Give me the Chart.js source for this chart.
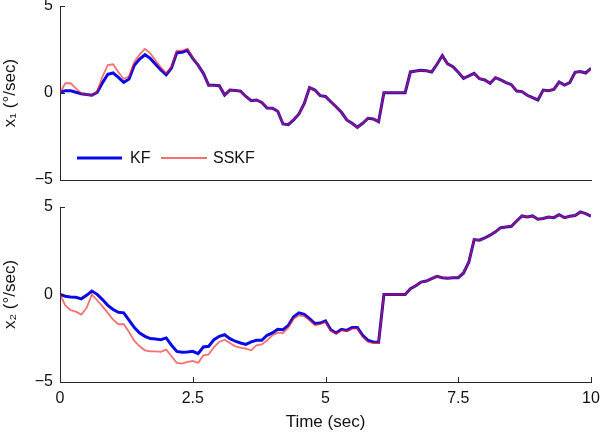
<!DOCTYPE html>
<html>
<head>
<meta charset="utf-8">
<script src="https://cdn.jsdelivr.net/npm/chart.js@4.4.1/dist/chart.umd.min.js"></script>
<style>
  html, body { margin: 0; padding: 0; background: #fff; }
  #wrap { position: relative; width: 600px; height: 433px; overflow: hidden; }
  #wrap canvas { position: absolute; left: 0; }
  #cTop { top: 0; }
  #cBot { top: 195px; }
</style>
</head>
<body>
<div id="wrap">
  <canvas id="cTop" width="600" height="195"></canvas>
  <canvas id="cBot" width="600" height="238"></canvas>
</div>
<script>
/* ── data (0.1 s steps) ── */
const timeSec = [
  0.0, 0.1, 0.2, 0.3, 0.4, 0.5, 0.6, 0.7, 0.8, 0.9,
  1.0, 1.1, 1.2, 1.3, 1.4, 1.5, 1.6, 1.7, 1.8, 1.9,
  2.0, 2.1, 2.2, 2.3, 2.4, 2.5, 2.6, 2.7, 2.8, 2.9,
  3.0, 3.1, 3.2, 3.3, 3.4, 3.5, 3.6, 3.7, 3.8, 3.9,
  4.0, 4.1, 4.2, 4.3, 4.4, 4.5, 4.6, 4.7, 4.8, 4.9,
  5.0, 5.1, 5.2, 5.3, 5.4, 5.5, 5.6, 5.7, 5.8, 5.9,
  6.0, 6.1, 6.2, 6.3, 6.4, 6.5, 6.6, 6.7, 6.8, 6.9,
  7.0, 7.1, 7.2, 7.3, 7.4, 7.5, 7.6, 7.7, 7.8, 7.9,
  8.0, 8.1, 8.2, 8.3, 8.4, 8.5, 8.6, 8.7, 8.8, 8.9,
  9.0, 9.1, 9.2, 9.3, 9.4, 9.5, 9.6, 9.7, 9.8, 9.9,
  10.0
];

const x1Kf = [
  0.05, 0.13, 0.13, 0.04, -0.04, -0.09, -0.13, 0.04, 0.59, 1.07,
  1.15, 0.90, 0.61, 0.80, 1.60, 1.95, 2.20, 1.99, 1.65, 1.32,
  1.05, 1.44, 2.32, 2.34, 2.45, 1.99, 1.60, 1.13, 0.44, 0.44,
  0.42, -0.12, 0.17, 0.15, 0.10, -0.20, -0.44, -0.40, -0.54, -0.86,
  -0.88, -1.05, -1.78, -1.82, -1.55, -1.20, -0.60, 0.31, 0.17, -0.15,
  -0.20, -0.50, -0.79, -1.11, -1.55, -1.74, -1.97, -1.74, -1.45, -1.49,
  -1.65, 0.02, 0.02, 0.02, 0.02, 0.02, 1.21, 1.26, 1.30, 1.28,
  1.21, 1.65, 2.15, 1.67, 1.51, 1.19, 0.84, 0.98, 1.13, 0.82,
  0.75, 0.56, 0.88, 0.75, 0.60, 0.48, 0.11, 0.08, -0.13, -0.27,
  -0.40, 0.17, 0.13, 0.21, 0.63, 0.46, 0.60, 1.19, 1.23, 1.15,
  1.42
];

const x1Sskf = [
  0.00, 0.56, 0.56, 0.27, -0.02, -0.09, -0.15, 0.08, 0.94, 1.61,
  1.65, 1.19, 0.82, 0.94, 1.78, 2.22, 2.53, 2.28, 1.86, 1.47,
  1.13, 1.51, 2.43, 2.43, 2.55, 2.03, 1.60, 1.13, 0.44, 0.44,
  0.42, -0.12, 0.17, 0.15, 0.10, -0.20, -0.44, -0.40, -0.54, -0.86,
  -0.88, -1.05, -1.78, -1.82, -1.55, -1.20, -0.60, 0.31, 0.17, -0.15,
  -0.20, -0.50, -0.79, -1.11, -1.55, -1.74, -1.97, -1.74, -1.45, -1.49,
  -1.65, 0.02, 0.02, 0.02, 0.02, 0.02, 1.21, 1.26, 1.30, 1.28,
  1.21, 1.65, 2.15, 1.67, 1.51, 1.19, 0.84, 0.98, 1.13, 0.82,
  0.75, 0.56, 0.88, 0.75, 0.60, 0.48, 0.11, 0.08, -0.13, -0.27,
  -0.40, 0.17, 0.13, 0.21, 0.63, 0.46, 0.60, 1.19, 1.23, 1.15,
  1.42
];

const x2Kf = [
  0.01, -0.10, -0.14, -0.16, -0.25, -0.05, 0.20, 0.01, -0.29, -0.62,
  -0.86, -1.02, -1.05, -1.47, -1.89, -2.20, -2.39, -2.52, -2.54, -2.58,
  -2.48, -2.90, -3.25, -3.30, -3.28, -3.25, -3.38, -3.00, -2.96, -2.58,
  -2.39, -2.30, -2.52, -2.67, -2.77, -2.85, -2.71, -2.62, -2.62, -2.33,
  -2.20, -1.99, -2.01, -1.76, -1.28, -1.05, -1.13, -1.38, -1.66, -1.63,
  -1.51, -2.01, -2.20, -1.99, -2.05, -1.89, -1.89, -2.33, -2.62, -2.71,
  -2.73, 0.00, 0.00, 0.00, 0.00, 0.00, 0.33, 0.50, 0.71, 0.77,
  0.91, 1.04, 0.96, 0.93, 0.96, 0.96, 1.23, 1.86, 3.14, 3.10,
  3.23, 3.39, 3.58, 3.82, 3.86, 3.90, 4.20, 4.49, 4.43, 4.49,
  4.30, 4.34, 4.43, 4.39, 4.56, 4.39, 4.47, 4.51, 4.72, 4.62,
  4.47
];

const x2Sskf = [
  0.01, -0.62, -0.90, -0.98, -1.15, -0.77, 0.01, -0.33, -0.68, -1.05,
  -1.44, -1.70, -1.70, -2.14, -2.65, -2.96, -3.19, -3.25, -3.25, -3.28,
  -3.15, -3.53, -3.91, -3.95, -3.85, -3.80, -3.91, -3.48, -3.42, -3.00,
  -2.71, -2.58, -2.77, -2.96, -3.04, -3.09, -3.19, -2.90, -2.85, -2.62,
  -2.33, -2.18, -2.20, -1.89, -1.38, -1.19, -1.24, -1.47, -1.76, -1.70,
  -1.57, -2.09, -2.24, -2.05, -2.10, -1.95, -1.95, -2.43, -2.71, -2.77,
  -2.77, 0.00, 0.00, 0.00, 0.00, 0.00, 0.33, 0.50, 0.71, 0.77,
  0.91, 1.04, 0.96, 0.93, 0.96, 0.96, 1.23, 1.86, 3.14, 3.10,
  3.23, 3.39, 3.58, 3.82, 3.86, 3.90, 4.20, 4.49, 4.43, 4.49,
  4.30, 4.34, 4.43, 4.39, 4.56, 4.39, 4.47, 4.51, 4.72, 4.62,
  4.47
];

const xTicks = [0, 2.5, 5, 7.5, 10];
const yTicks = [-5, 0, 5];
const seriesNames = ['KF', 'SSKF'];

/* ── styling ── */
const FONT = "'Liberation Sans', Arial, Helvetica, sans-serif";
const AXIS = '#262626';
const KF_COLOR = 'rgb(10,10,230)';
const SSKF_COLOR = 'rgba(240,25,25,0.62)';
const SSKF_WIDTH = 1.8;

const pts = ys => timeSec.map((t, i) => ({ x: t, y: ys[i] }));
const fmtNum = v => (v < 0 ? '\u2212' + Math.abs(v) : String(v));

// ticks pointing into the plot, like the original
const inwardTicks = {
  id: 'inwardTicks',
  afterDraw(chart, args, opts) {
    const { ctx, chartArea: a, scales } = chart;
    ctx.save();
    ctx.strokeStyle = AXIS;
    ctx.lineWidth = 1;
    yTicks.forEach(v => {
      const py = Math.round(scales.y.getPixelForValue(v)) + 0.5;
      ctx.beginPath(); ctx.moveTo(a.left, py); ctx.lineTo(a.left + 5, py); ctx.stroke();
    });
    if (opts.xTicks) {
      xTicks.forEach(v => {
        const px = Math.round(scales.x.getPixelForValue(v)) + 0.5;
        ctx.beginPath(); ctx.moveTo(px, a.bottom); ctx.lineTo(px, a.bottom - 5); ctx.stroke();
      });
    }
    ctx.restore();
  }
};

// legend sits inside the top axes, lower left, no box
const innerLegend = {
  id: 'innerLegend',
  afterDraw(chart, args, opts) {
    if (!opts.show) return;
    const { ctx, chartArea: a } = chart;
    const y = a.bottom - 22;
    ctx.save();
    ctx.font = '16px ' + FONT;
    ctx.textBaseline = 'middle';
    ctx.fillStyle = '#111';
    ctx.lineCap = 'butt';

    ctx.strokeStyle = KF_COLOR; ctx.lineWidth = 3;
    ctx.beginPath(); ctx.moveTo(a.left + 17, y); ctx.lineTo(a.left + 62, y); ctx.stroke();
    ctx.fillText(seriesNames[0], a.left + 70, y + 1);

    ctx.strokeStyle = SSKF_COLOR; ctx.lineWidth = SSKF_WIDTH;
    ctx.beginPath(); ctx.moveTo(a.left + 101, y); ctx.lineTo(a.left + 147, y); ctx.stroke();
    ctx.fillText(seriesNames[1], a.left + 153, y + 1);
    ctx.restore();
  }
};

function mkPanel(id, kf, sskf, opt) {
  return new Chart(document.getElementById(id).getContext('2d'), {
    type: 'line',
    data: {
      datasets: [
        { label: seriesNames[0], data: pts(kf), borderColor: KF_COLOR, borderWidth: 3, pointRadius: 0, tension: 0, order: 1 },
        { label: seriesNames[1], data: pts(sskf), borderColor: SSKF_COLOR, borderWidth: SSKF_WIDTH, pointRadius: 0, tension: 0, order: 0 }
      ]
    },
    options: {
      responsive: false,
      animation: false,
      events: [],
      layout: { autoPadding: false, padding: { left: 0, right: 9, top: opt.padTop, bottom: 0 } },
      plugins: {
        legend: { display: false },
        tooltip: { enabled: false },
        inwardTicks: { xTicks: opt.showX },
        innerLegend: { show: opt.legend }
      },
      scales: {
        x: {
          type: 'linear', min: 0, max: 10,
          afterBuildTicks: s => { s.ticks = xTicks.map(v => ({ value: v })); },
          afterFit: s => { s.height = opt.xHeight; s.paddingLeft = 0; s.paddingRight = 0; },
          grid: { display: false, drawTicks: false },
          border: { display: true, color: AXIS, width: 1 },
          ticks: {
            display: opt.showX, padding: 7, maxRotation: 0, autoSkip: false,
            color: '#111', font: { family: FONT, size: 16 },
            callback: v => fmtNum(v)
          },
          title: {
            display: opt.showX, text: 'Time (sec)', color: '#111',
            font: { family: FONT, size: 17 }, padding: 0
          }
        },
        y: {
          min: -5, max: 5,
          afterBuildTicks: s => { s.ticks = yTicks.map(v => ({ value: v })); },
          afterFit: s => { s.width = 60; s.paddingTop = 0; s.paddingBottom = 0; },
          grid: { display: false, drawTicks: false },
          border: { display: true, color: AXIS, width: 1 },
          ticks: {
            padding: 7, color: '#111', font: { family: FONT, size: 16 },
            callback: v => fmtNum(v)
          },
          title: {
            display: true, text: opt.yTitle, color: '#111',
            font: { family: FONT, size: 17 }, padding: 0
          }
        }
      }
    },
    plugins: [inwardTicks, innerLegend]
  });
}

mkPanel('cTop', x1Kf, x1Sskf, { padTop: 6, xHeight: 15, showX: false, legend: true, yTitle: 'x\u2081 (\u00B0/sec)' });
mkPanel('cBot', x2Kf, x2Sskf, { padTop: 12, xHeight: 51, showX: true, legend: false, yTitle: 'x\u2082 (\u00B0/sec)' });
</script>
</body>
</html>
